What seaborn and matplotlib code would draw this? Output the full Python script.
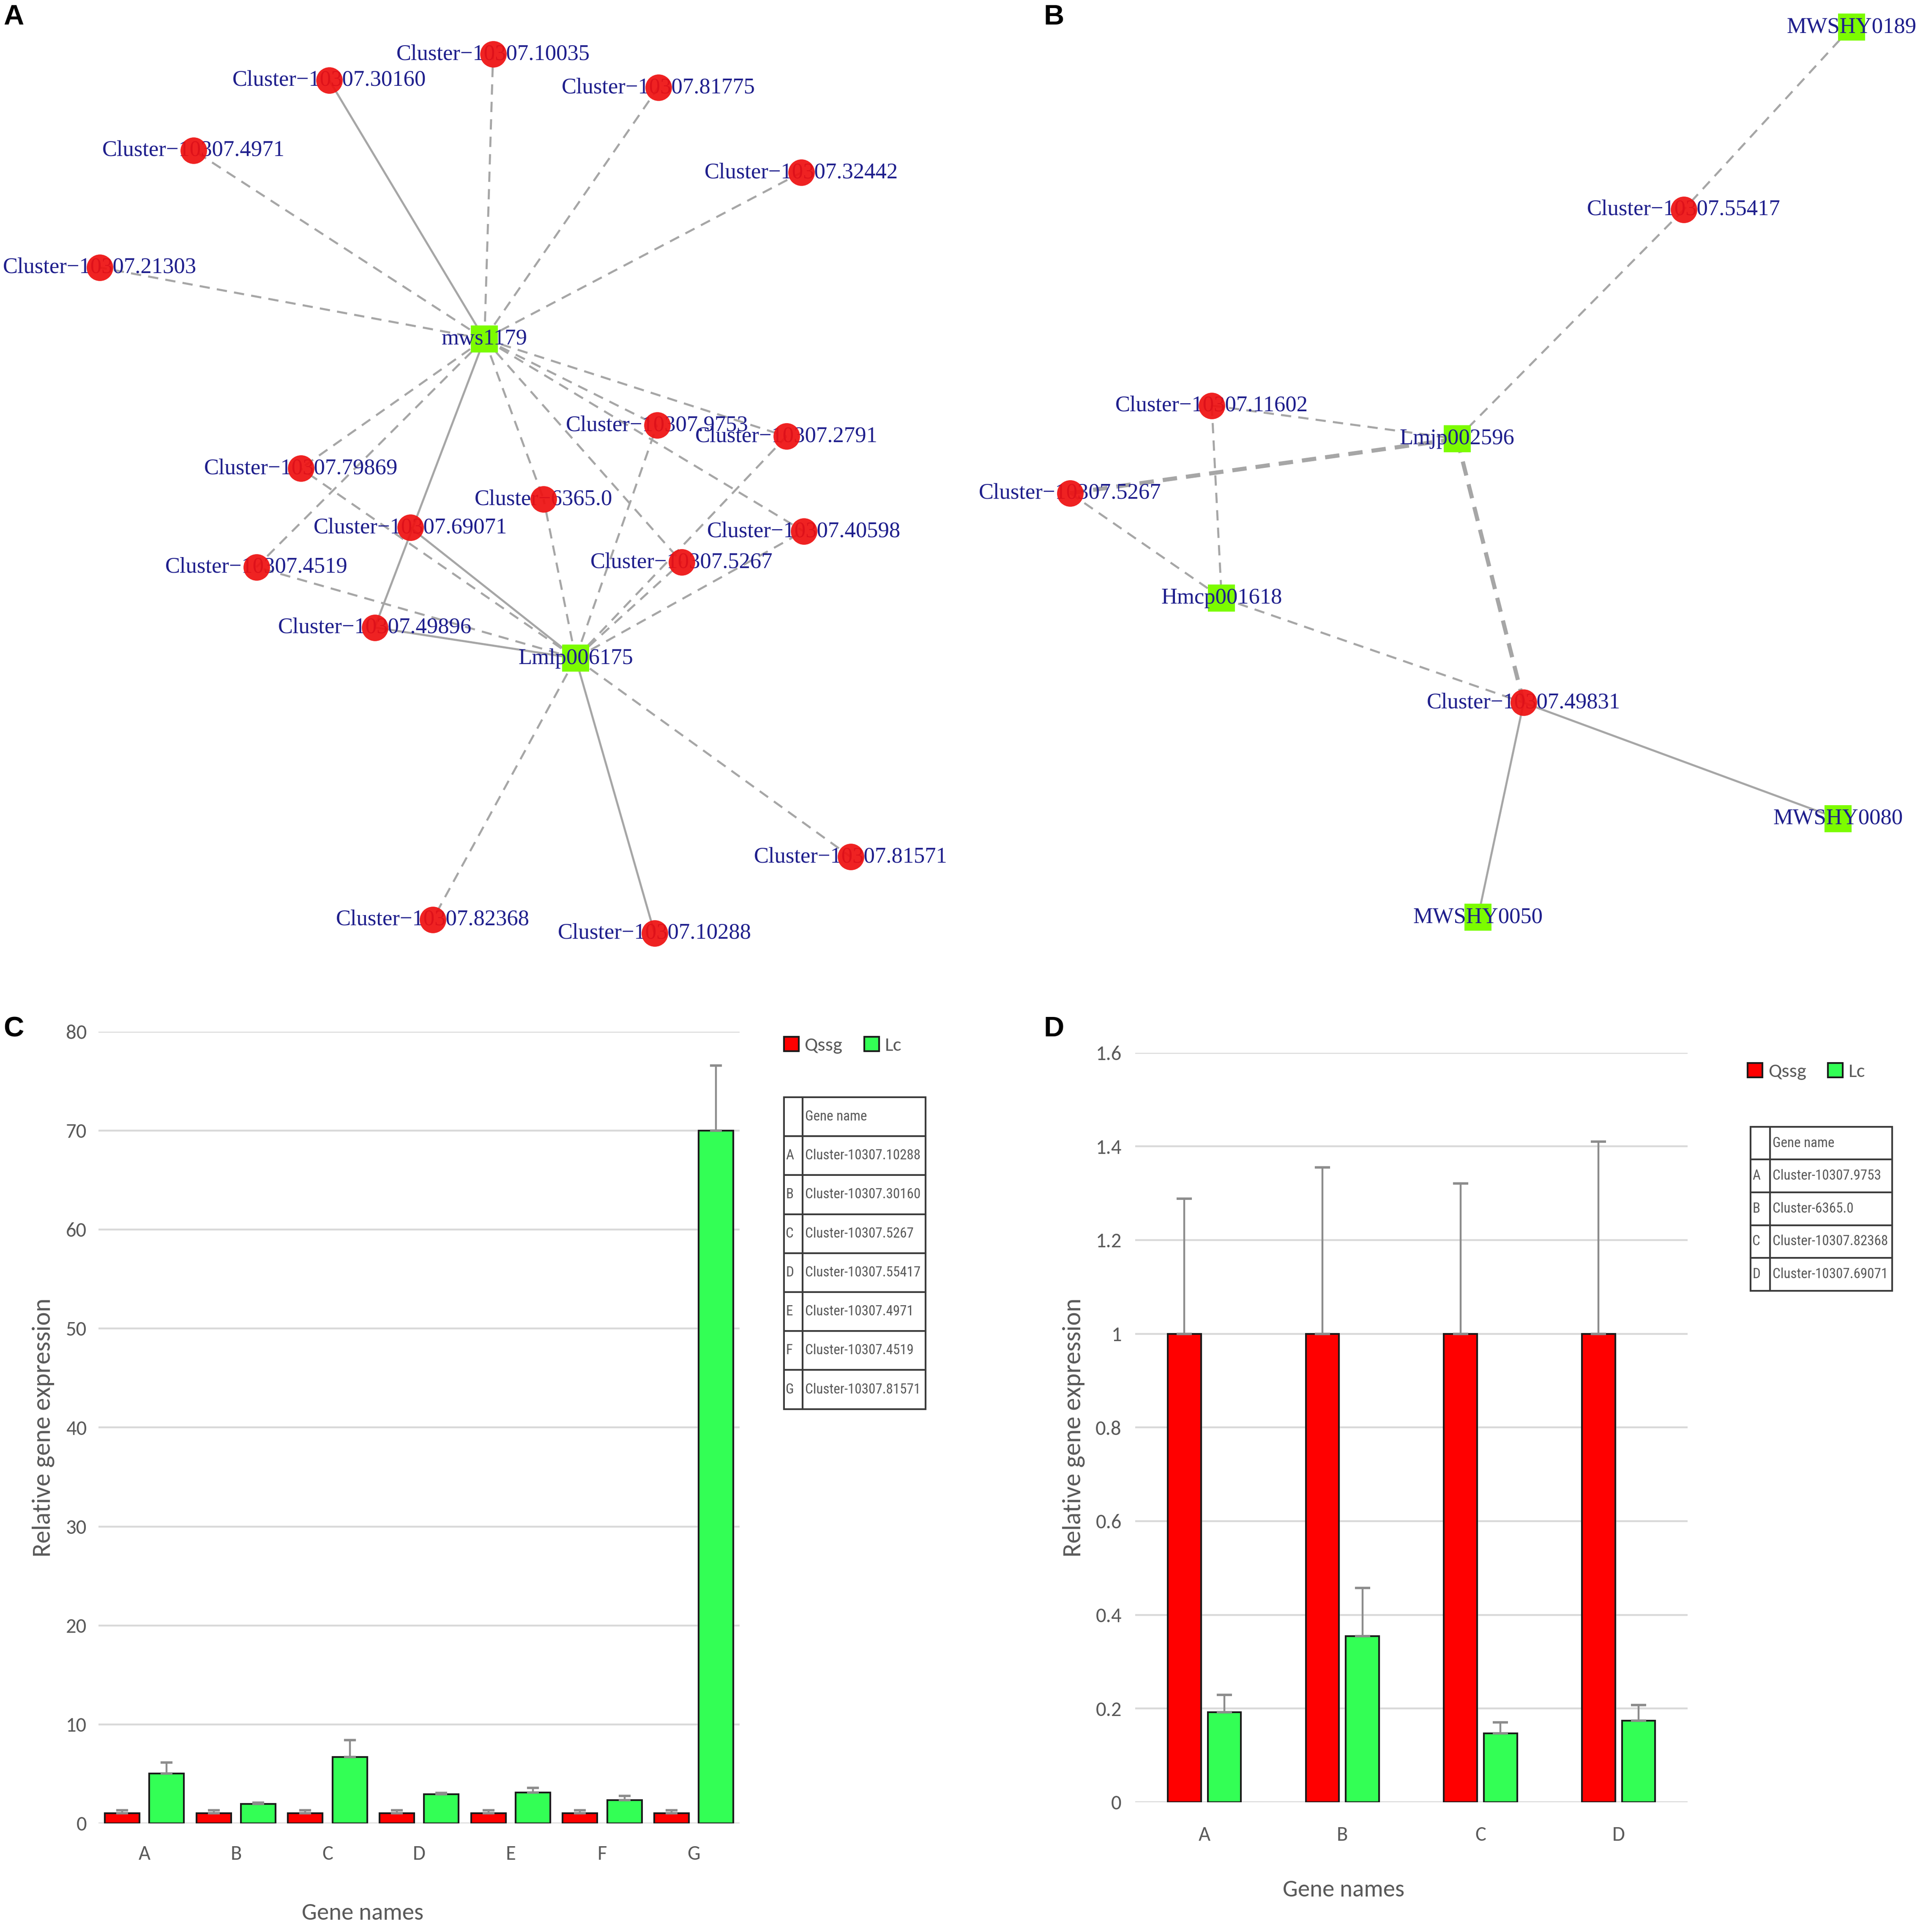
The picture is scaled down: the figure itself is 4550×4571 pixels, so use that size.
import matplotlib
matplotlib.use("Agg")
import matplotlib.pyplot as plt
import matplotlib.ticker as mticker
import numpy as np
import pandas as pd
import seaborn as sns

# ---------------- data ----------------

# network A: node names, kind and layout (network layout in panel pixels)
a_names = ["Cluster−10307.10035", "Cluster−10307.30160", "Cluster−10307.81775",
           "Cluster−10307.4971", "Cluster−10307.32442", "Cluster−10307.21303",
           "mws1179", "Cluster−10307.9753", "Cluster−10307.2791",
           "Cluster−10307.79869", "Cluster−6365.0", "Cluster−10307.69071",
           "Cluster−10307.40598", "Cluster−10307.4519", "Cluster−10307.5267",
           "Cluster−10307.49896", "Lmlp006175", "Cluster−10307.81571",
           "Cluster−10307.82368", "Cluster−10307.10288"]
a_kind = ["c", "c", "c", "c", "c", "c", "g", "c", "c", "c",
          "c", "c", "c", "c", "c", "c", "g", "c", "c", "c"]
a_x = [400, 267, 534, 157, 650, 81, 393, 533, 638, 244,
       441, 333, 652, 208, 553, 304, 467, 690, 351, 531]
a_y = [44, 65, 71, 122, 140, 217, 275, 345, 354, 380,
       405, 428, 431, 460, 456, 509, 534, 695, 746, 757]
a_edges = [
    ("mws1179", "Cluster−10307.30160", "solid"),
    ("mws1179", "Cluster−10307.49896", "solid"),
    ("mws1179", "Cluster−10307.10035", "dash"),
    ("mws1179", "Cluster−10307.81775", "dash"),
    ("mws1179", "Cluster−10307.4971", "dash"),
    ("mws1179", "Cluster−10307.32442", "dash"),
    ("mws1179", "Cluster−10307.21303", "dash"),
    ("mws1179", "Cluster−10307.9753", "dash"),
    ("mws1179", "Cluster−10307.2791", "dash"),
    ("mws1179", "Cluster−10307.40598", "dash"),
    ("mws1179", "Cluster−10307.5267", "dash"),
    ("mws1179", "Cluster−6365.0", "dash"),
    ("mws1179", "Cluster−10307.79869", "dash"),
    ("mws1179", "Cluster−10307.4519", "dash"),
    ("Lmlp006175", "Cluster−10307.69071", "solid"),
    ("Lmlp006175", "Cluster−10307.49896", "solid"),
    ("Lmlp006175", "Cluster−10307.10288", "solid"),
    ("Lmlp006175", "Cluster−10307.4519", "dash"),
    ("Lmlp006175", "Cluster−10307.79869", "dash"),
    ("Lmlp006175", "Cluster−6365.0", "dash"),
    ("Lmlp006175", "Cluster−10307.9753", "dash"),
    ("Lmlp006175", "Cluster−10307.2791", "dash"),
    ("Lmlp006175", "Cluster−10307.5267", "dash"),
    ("Lmlp006175", "Cluster−10307.40598", "dash"),
    ("Lmlp006175", "Cluster−10307.81571", "dash"),
    ("Lmlp006175", "Cluster−10307.82368", "dash"),
]

# network B
b_names = ["MWSHY0189", "Cluster−10307.55417", "Cluster−10307.11602", "Lmjp002596",
           "Cluster−10307.5267", "Hmcp001618", "Cluster−10307.49831",
           "MWSHY0080", "MWSHY0050"]
b_kind = ["g", "c", "c", "g", "c", "g", "c", "g", "g"]
b_x = [1502, 1366, 983, 1182, 868, 991, 1236, 1491, 1199]
b_y = [22, 170, 329, 356, 400, 485, 570, 664, 744]
b_edges = [
    ("MWSHY0189", "Cluster−10307.55417", "dash"),
    ("Cluster−10307.55417", "Lmjp002596", "dash"),
    ("Cluster−10307.11602", "Lmjp002596", "dash"),
    ("Cluster−10307.5267", "Lmjp002596", "thick"),
    ("Cluster−10307.11602", "Hmcp001618", "dash"),
    ("Cluster−10307.5267", "Hmcp001618", "dash"),
    ("Hmcp001618", "Cluster−10307.49831", "dash"),
    ("Lmjp002596", "Cluster−10307.49831", "thick"),
    ("Cluster−10307.49831", "MWSHY0080", "solid"),
    ("Cluster−10307.49831", "MWSHY0050", "solid"),
]

# panel C
genes_c = ["A", "B", "C", "D", "E", "F", "G"]
qssg_c = [1, 1, 1, 1, 1, 1, 1]
qssg_c_err = [0.3, 0.3, 0.3, 0.3, 0.3, 0.3, 0.3]
lc_c = [5.05, 1.96, 6.7, 2.94, 3.12, 2.33, 70.0]
lc_c_err = [1.1, 0.14, 1.7, 0.14, 0.46, 0.42, 6.6]
names_c = ["Cluster-10307.10288", "Cluster-10307.30160", "Cluster-10307.5267",
           "Cluster-10307.55417", "Cluster-10307.4971", "Cluster-10307.4519",
           "Cluster-10307.81571"]

# panel D
genes_d = ["A", "B", "C", "D"]
qssg_d = [1, 1, 1, 1]
qssg_d_err = [0.289, 0.355, 0.321, 0.41]
lc_d = [0.192, 0.355, 0.147, 0.174]
lc_d_err = [0.037, 0.103, 0.024, 0.034]
names_d = ["Cluster-10307.9753", "Cluster-6365.0", "Cluster-10307.82368",
           "Cluster-10307.69071"]

# ---------------- style ----------------
RED = "#ff0000"
GREEN = "#33ff55"
NODE_RED = "#ee1111"
NODE_GREEN = "#7cfc00"
NAVY = "#1e1e8c"
EDGE = "#a6a6a6"
TXT = "#595959"
CHART_FONT = ["Carlito", "Roboto Condensed", "Liberation Sans", "DejaVu Sans"]
TABLE_FONT = ["Roboto Condensed", "Archivo Narrow", "Liberation Sans Narrow",
              "Liberation Sans", "DejaVu Sans"]

sns.set_theme(style="white")
plt.rcParams["font.family"] = CHART_FONT

W, H = 1560.0, 1567.2   # layout units (1 unit = 1/100 inch)
fig = plt.figure(figsize=(15.6, 15.672), dpi=291.67)
fig.patch.set_facecolor("white")


def draw_network(ax, names, kinds, xs, ys, edges, xlim):
    pos = {n: (x, y) for n, x, y in zip(names, xs, ys)}
    for a, b, style in edges:
        (x0, y0), (x1, y1) = pos[a], pos[b]
        if style == "solid":
            ax.plot([x0, x1], [y0, y1], color=EDGE, lw=1.2, zorder=1,
                    solid_capstyle="butt")
        elif style == "thick":
            ax.plot([x0, x1], [y0, y1], color=EDGE, lw=2.4, zorder=1,
                    dashes=(3.5, 2.2))
        else:
            ax.plot([x0, x1], [y0, y1], color=EDGE, lw=1.2, zorder=1,
                    dashes=(5, 3.5))
    df = pd.DataFrame({"name": names, "kind": kinds, "x": xs, "y": ys})
    sns.scatterplot(data=df[df["kind"] == "g"], x="x", y="y", marker="s",
                    color=NODE_GREEN, s=250, linewidth=0, ax=ax, zorder=2)
    for n, x, y in zip(names, xs, ys):
        ax.text(x, y, n, ha="center", va="center", family="Liberation Serif",
                fontsize=13, color=NAVY, zorder=3)
    sns.scatterplot(data=df[df["kind"] == "c"], x="x", y="y", marker="o",
                    color=NODE_RED, s=240, linewidth=0, alpha=0.93, ax=ax,
                    zorder=4)
    ax.set_xlim(*xlim)
    ax.set_ylim(800, 0)
    ax.set_axis_off()


ax_a = fig.add_axes([0, 1 - 800 / H, 780 / W, 800 / H])
draw_network(ax_a, a_names, a_kind, a_x, a_y, a_edges, (0, 780))
ax_b = fig.add_axes([780 / W, 1 - 800 / H, 780 / W, 800 / H])
draw_network(ax_b, b_names, b_kind, b_x, b_y, b_edges, (780, 1560))


def draw_bars(ax, genes, qssg, qssg_err, lc, lc_err, names, ymax, ystep,
              width, gap, cap, leg_anchor, table_bbox, col_w, xlab_xy, ylab_xy,
              tick_pad):
    df = pd.DataFrame({
        "gene": genes + genes,
        "group": ["Qssg"] * len(genes) + ["Lc"] * len(genes),
        "value": qssg + lc,
    })
    sns.barplot(data=df, x="gene", y="value", hue="group",
                hue_order=["Qssg", "Lc"], palette={"Qssg": RED, "Lc": GREEN},
                width=width, gap=gap, errorbar=None, edgecolor="#1a1a1a",
                linewidth=1.0, saturation=1, ax=ax)
    for cont, errs in zip(ax.containers, [qssg_err, lc_err]):
        xs = [p.get_x() + p.get_width() / 2 for p in cont]
        hs = [p.get_height() for p in cont]
        _, caps, _ = ax.errorbar(xs, hs, yerr=[np.zeros(len(errs)), errs],
                                 fmt="none", ecolor="#8c8c8c", elinewidth=1.1,
                                 capsize=cap, capthick=1.4, zorder=3)
        for c in caps:
            c.set_color("#3c3c3c")
    ax.set_ylim(0, ymax)
    ax.set_xlim(-0.5, len(genes) - 0.5)
    ax.yaxis.set_major_locator(mticker.MultipleLocator(ystep))
    ax.yaxis.set_major_formatter(mticker.FuncFormatter(lambda v, p: "%g" % round(v, 2)))
    ax.yaxis.grid(True, color="#d9d9d9", lw=1.1)
    ax.set_axisbelow(True)
    for s in ax.spines.values():
        s.set_visible(False)
    ax.tick_params(axis="both", length=0, labelsize=12, labelcolor=TXT)
    ax.tick_params(axis="y", pad=tick_pad[0])
    ax.tick_params(axis="x", pad=tick_pad[1])
    ax.set_xlabel("Gene names", fontsize=14, color=TXT)
    ax.set_ylabel("Relative gene expression", fontsize=15, color=TXT)
    ax.xaxis.set_label_coords(*xlab_xy)
    ax.xaxis.label.set_va("center")
    ax.yaxis.set_label_coords(*ylab_xy)
    ax.yaxis.label.set_va("center")
    sns.move_legend(ax, "center left", bbox_to_anchor=leg_anchor, ncol=2,
                    frameon=False, title=None, handlelength=0.75,
                    handleheight=0.75, handletextpad=0.3, columnspacing=1.1,
                    borderpad=0, borderaxespad=0, fontsize=11.5,
                    labelcolor=TXT)
    rows = [["", "Gene name"]] + [[g, n] for g, n in zip(genes, names)]
    tab = ax.table(cellText=rows, colWidths=col_w, bbox=table_bbox,
                   cellLoc="left")
    tab.auto_set_font_size(False)
    for (r, c), cell in tab.get_celld().items():
        cell.set_edgecolor("#3a3a3a")
        cell.set_linewidth(1.0)
        cell.PAD = 0.1 if c == 0 else 0.02
        t = cell.get_text()
        t.set_fontsize(8.2)
        t.set_color(TXT)
        t.set_family(TABLE_FONT)


# panel C: axes from x 80..600, y 837..1479 (layout units)
ax_c = fig.add_axes([80 / W, (H - 1479) / H, 520 / W, 642 / H])
draw_bars(ax_c, genes_c, qssg_c, qssg_c_err, lc_c, lc_c_err, names_c,
          80, 10, 0.97, 0.22, 3.5,
          leg_anchor=(1.069, 0.983),
          table_bbox=[(636 - 80) / 520, (1479 - 1143) / 642, 115 / 520, 253 / 642],
          col_w=[15 / 115, 100 / 115],
          xlab_xy=((294 - 80) / 520, (1479 - 1552) / 642),
          ylab_xy=((35 - 80) / 520, 0.5),
          tick_pad=(7, 13))

# panel D: axes from x 921..1369, y 854..1462
ax_d = fig.add_axes([921 / W, (H - 1462) / H, 448 / W, 608 / H])
draw_bars(ax_d, genes_d, qssg_d, qssg_d_err, lc_d, lc_d_err, names_d,
          1.6, 0.2, 0.58, 0.17, 4.5,
          leg_anchor=(1.109, 0.975),
          table_bbox=[(1420 - 921) / 448, (1462 - 1047) / 608, 115 / 448, 133 / 608],
          col_w=[16 / 115, 99 / 115],
          xlab_xy=((1090 - 921) / 448, (1462 - 1533) / 608),
          ylab_xy=((871 - 921) / 448, 0.5),
          tick_pad=(8, 14))

# panel letters
for letter, x, y in [("A", 11, 14), ("B", 855, 14), ("C", 11, 835), ("D", 855, 835)]:
    fig.text(x / W, 1 - y / H, letter, ha="center", va="center", fontsize=16.5,
             fontweight="bold", family="Liberation Sans", color="black")

fig.savefig("out.png", dpi=291.67, facecolor="white")
